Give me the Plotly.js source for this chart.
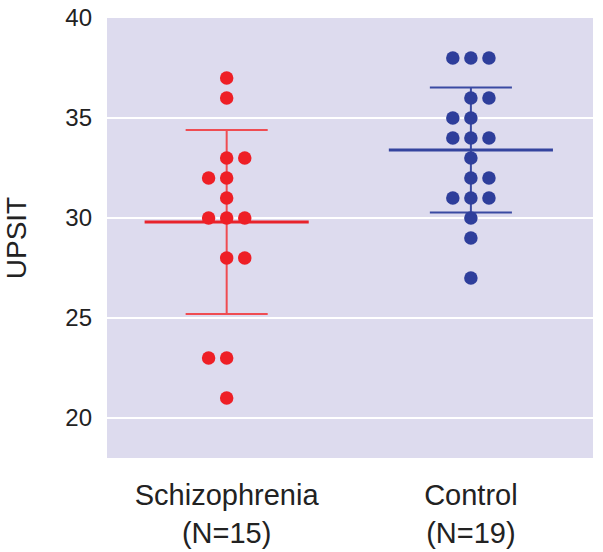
<!DOCTYPE html>
<html>
<head>
<meta charset="utf-8">
<script src="https://cdn.plot.ly/plotly-3.0.1.min.js"></script>
<style>html,body{margin:0;padding:0;background:#fff;}#chart{width:603px;height:552px;}</style>
</head>
<body>
<div id="chart"></div>
<script>
// Data
var groups = ['Schizophrenia', 'Control'];
var groupLabels = ['Schizophrenia<br>(N=15)', 'Control<br>(N=19)'];
var schizoValues = [37, 36, 33, 33, 32, 32, 31, 30, 30, 30, 28, 28, 23, 23, 21];
var schizoCols   = [0, 0, 0, 1, -1, 0, 0, -1, 0, 1, 0, 1, -1, 0, 0];
var controlValues = [38, 38, 38, 36, 36, 35, 35, 34, 34, 34, 33, 32, 32, 31, 31, 31, 30, 29, 27];
var controlCols   = [-1, 0, 1, 0, 1, -1, 0, -1, 0, 1, 0, 0, 1, -1, 0, 1, 0, 0, 0];
var means = [29.8, 33.4];
var sds = [4.6, 3.13];
var yTicks = [20, 25, 30, 35, 40];

// Styling
var dotSpacing = 0.074;
var meanHalf = 0.336;
var capHalf = 0.168;
var dotColors = ['#ee1f26', '#2e3e9b'];
var meanColors = ['#e8232b', '#34449e'];
var errColors = ['#ef4c52', '#3a4aa2'];

var allValues = [schizoValues, controlValues];
var allCols = [schizoCols, controlCols];
var traces = [];

for (var g = 0; g < 2; g++) {
  var m = means[g], s = sds[g];
  traces.push({x: [g, g], y: [m - s, m + s], mode: 'lines', line: {color: errColors[g], width: 2}, hoverinfo: 'skip'});
  traces.push({x: [g - capHalf, g + capHalf], y: [m + s, m + s], mode: 'lines', line: {color: errColors[g], width: 2}, hoverinfo: 'skip'});
  traces.push({x: [g - capHalf, g + capHalf], y: [m - s, m - s], mode: 'lines', line: {color: errColors[g], width: 2}, hoverinfo: 'skip'});
  traces.push({x: [g - meanHalf, g + meanHalf], y: [m, m], mode: 'lines', line: {color: meanColors[g], width: 3}, hoverinfo: 'skip'});
  var xs = allCols[g].map(function (c) { return g + c * dotSpacing; });
  traces.push({x: xs, y: allValues[g], mode: 'markers', name: groups[g],
    marker: {color: dotColors[g], size: 13.5, line: {width: 0}}});
}

var layout = {
  width: 603, height: 552,
  margin: {l: 107, r: 10, t: 18, b: 94},
  paper_bgcolor: '#ffffff',
  plot_bgcolor: '#dddbee',
  showlegend: false,
  font: {family: '"Liberation Sans", Arial, sans-serif', color: '#222'},
  xaxis: {
    range: [-0.49, 1.5],
    tickvals: [0, 1],
    ticktext: groupLabels,
    tickfont: {size: 29, color: '#222'},
    showgrid: false, zeroline: false, showline: false,
    ticks: '', ticklabelstandoff: 17
  },
  yaxis: {
    range: [18, 40],
    tickvals: yTicks,
    ticktext: yTicks.map(String),
    tickfont: {size: 24, color: '#222'},
    gridcolor: '#ffffff', gridwidth: 2,
    zeroline: false, showline: false,
    ticks: '', ticklabelstandoff: 14,
    title: {text: 'UPSIT', font: {size: 28, color: '#222'}, standoff: 30}
  }
};

Plotly.newPlot('chart', traces, layout, {staticPlot: true, displayModeBar: false});
</script>
</body>
</html>
